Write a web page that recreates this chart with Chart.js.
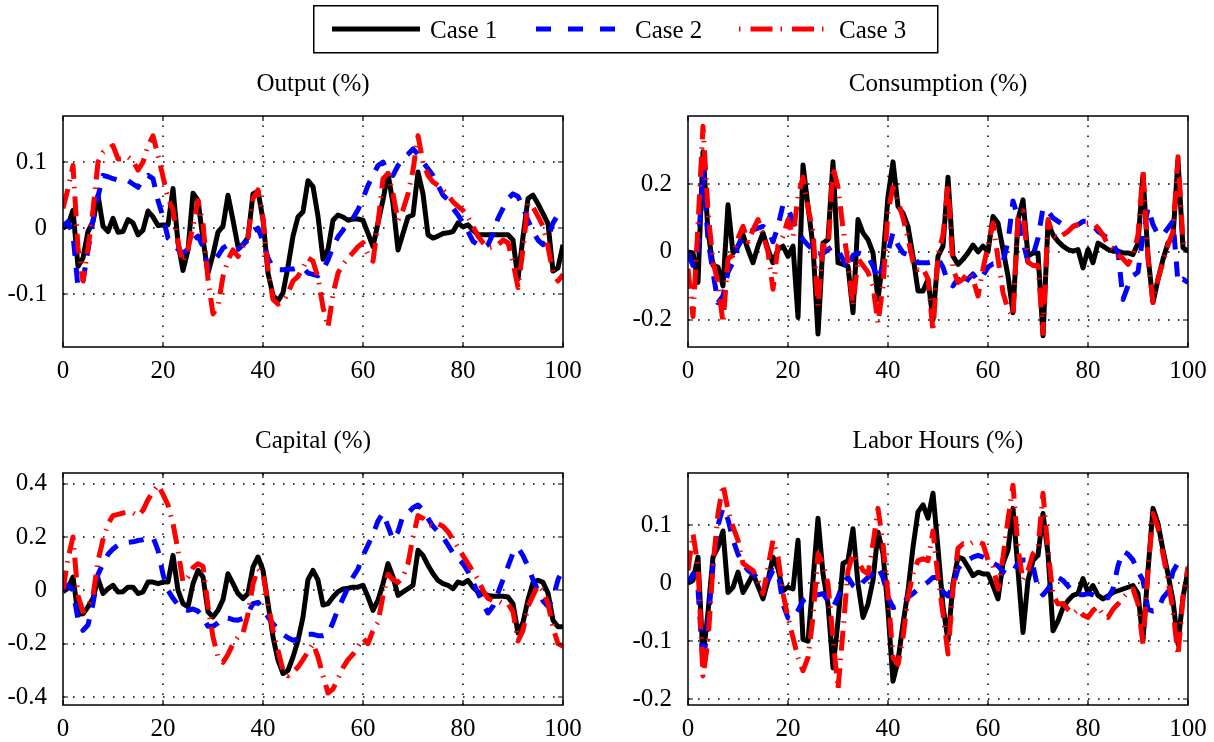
<!DOCTYPE html>
<html>
<head>
<meta charset="utf-8">
<script src="https://cdn.jsdelivr.net/npm/chart.js@4.4.1/dist/chart.umd.min.js"></script>
<style>
  html, body { margin: 0; padding: 0; background: #fff; }
  body { width: 1214px; height: 742px; position: relative; overflow: hidden; }
  canvas { position: absolute; }
  #overlay { position: absolute; left: 0; top: 0; pointer-events: none; }
</style>
</head>
<body>
<canvas id="cOutput" width="588" height="290" style="left:0px;top:100px"></canvas>
<canvas id="cConsumption" width="593" height="290" style="left:620px;top:100px"></canvas>
<canvas id="cCapital" width="588" height="285" style="left:0px;top:457px"></canvas>
<canvas id="cLabor" width="593" height="285" style="left:620px;top:457px"></canvas>

<svg id="overlay" width="1214" height="742" xmlns="http://www.w3.org/2000/svg">
  <g font-family="Liberation Serif, Times New Roman, serif" font-size="25" fill="#000">
    <text x="313" y="91" text-anchor="middle">Output (%)</text>
    <text x="938" y="91" text-anchor="middle">Consumption (%)</text>
    <text x="313" y="448" text-anchor="middle">Capital (%)</text>
    <text x="938" y="448" text-anchor="middle">Labor Hours (%)</text>
  </g>
  <rect x="313.75" y="5.75" width="624" height="47" fill="#fff" stroke="#000" stroke-width="1.5"/>
  <line x1="332" y1="29" x2="420" y2="29" stroke="#000" stroke-width="5"/>
  <line x1="536" y1="29" x2="615" y2="29" stroke="#0000ff" stroke-width="5" stroke-dasharray="15 17"/>
  <line x1="739" y1="29" x2="831" y2="29" stroke="#ff0000" stroke-width="5" stroke-dasharray="1.5 10 22 8"/>
  <g font-family="Liberation Serif, Times New Roman, serif" font-size="25" fill="#000">
    <text x="430" y="38">Case 1</text>
    <text x="635" y="38">Case 2</text>
    <text x="839" y="38">Case 3</text>
  </g>
</svg>

<script>
// Simulation periods on the horizontal axis
const periods = Array.from({ length: 101 }, (_, i) => i);
const periodTicks = [0, 20, 40, 60, 80, 100];

// Tick values of each vertical axis
const outputTicks = [-0.1, 0, 0.1];
const consumptionTicks = [-0.2, 0, 0.2];
const capitalTicks = [-0.4, -0.2, 0, 0.2, 0.4];
const laborTicks = [-0.2, -0.1, 0, 0.1];

// Output (%)
const outputCase1 = [
  0.000, 0.005, 0.027, -0.058, -0.045, -0.005, 0.010, 0.050, 0.003, -0.005,
  0.015, -0.006, -0.005, 0.013, 0.008, -0.010, -0.003, 0.026, 0.017, 0.004,
  0.005, 0.005, 0.060, -0.022, -0.064, -0.033, 0.053, 0.042, -0.017, -0.068,
  -0.040, -0.006, 0.003, 0.050, 0.012, -0.028, -0.025, -0.014, 0.052, 0.056,
  0.013, -0.068, -0.102, -0.110, -0.098, -0.058, -0.012, 0.017, 0.025, 0.072,
  0.063, 0.018, -0.047, -0.032, 0.012, 0.020, 0.017, 0.012, 0.014, 0.014,
  0.012, -0.008, -0.028, 0.008, 0.043, 0.083, 0.037, -0.033, -0.008, 0.017,
  0.020, 0.085, 0.052, -0.010, -0.015, -0.012, -0.008, -0.007, -0.005, 0.008,
  0.002, 0.005, -0.003, -0.010, -0.010, -0.010, -0.010, -0.010, -0.010, -0.010,
  -0.018, -0.077, -0.013, 0.045, 0.050, 0.037, 0.022, 0.007, -0.065, -0.060,
  -0.025
];
const outputCase2 = [
  0.003, 0.010, -0.010, -0.090, -0.080, -0.033, 0.012, 0.048, 0.080, 0.078,
  0.075, 0.073, 0.072, 0.072, 0.067, 0.062, 0.075, 0.080, 0.075, 0.042,
  0.017, -0.015, -0.022, -0.032, -0.038, -0.032, -0.018, -0.012, -0.028, -0.062,
  -0.052, -0.042, -0.030, -0.025, -0.032, -0.032, -0.025, -0.018, -0.005, 0.000,
  -0.020, -0.045, -0.060, -0.063, -0.063, -0.062, -0.062, -0.060, -0.060, -0.068,
  -0.070, -0.072, -0.063, -0.048, -0.028, -0.013, -0.003, 0.008, 0.015, 0.028,
  0.045, 0.065, 0.080, 0.095, 0.100, 0.085, 0.080, 0.095, 0.105, 0.112,
  0.120, 0.112, 0.100, 0.090, 0.080, 0.065, 0.050, 0.043, 0.030, 0.020,
  0.008, -0.005, -0.020, -0.025, -0.030, -0.025, -0.008, 0.015, 0.030, 0.045,
  0.052, 0.048, 0.032, 0.012, -0.005, -0.018, -0.025, -0.015, 0.008, 0.020,
  0.030
];
const outputCase3 = [
  0.030, 0.060, 0.095, -0.030, -0.080, -0.030, 0.028, 0.100, 0.115, 0.120,
  0.125, 0.105, 0.105, 0.108, 0.102, 0.088, 0.100, 0.125, 0.140, 0.110,
  0.078, 0.045, 0.028, -0.022, -0.052, -0.032, 0.003, 0.042, 0.007, -0.078,
  -0.130, -0.118, -0.073, -0.048, -0.033, -0.043, -0.028, -0.013, 0.045, 0.058,
  0.015, -0.063, -0.108, -0.115, -0.112, -0.098, -0.080, -0.073, -0.060, -0.045,
  -0.050, -0.075, -0.120, -0.150, -0.100, -0.068, -0.055, -0.045, -0.037, -0.028,
  -0.022, -0.040, -0.050, 0.008, 0.075, 0.083, 0.052, 0.012, 0.028, 0.052,
  0.088, 0.140, 0.100, 0.080, 0.070, 0.065, 0.058, 0.050, 0.040, 0.033,
  0.027, 0.017, 0.003, -0.012, -0.022, -0.030, -0.028, -0.025, -0.018, -0.022,
  -0.052, -0.090, -0.032, 0.038, 0.032, 0.018, 0.003, -0.028, -0.068, -0.080,
  -0.070
];

// Consumption (%)
const consumptionCase1 = [
  0.000, -0.003, -0.090, 0.295, 0.060, -0.040, -0.045, -0.100, 0.139, -0.003,
  0.017, 0.050, 0.007, -0.032, 0.017, 0.056, 0.007, -0.032, 0.007, 0.017,
  -0.013, 0.017, -0.193, 0.256, 0.134, 0.017, -0.242, 0.026, 0.036, 0.265,
  -0.032, -0.037, -0.042, -0.179, 0.095, 0.056, 0.036, -0.003, -0.140, -0.020,
  0.163, 0.265, 0.134, 0.114, 0.075, -0.013, -0.115, -0.115, -0.081, -0.200,
  -0.013, 0.017, 0.220, -0.013, -0.037, -0.022, -0.003, 0.020, 0.000, 0.017,
  0.000, 0.104, 0.085, 0.007, -0.071, -0.179, 0.095, 0.153, -0.013, -0.003,
  -0.003, -0.247, 0.085, 0.050, 0.031, 0.017, 0.007, 0.002, 0.007, -0.047,
  0.007, -0.032, 0.026, 0.017, 0.007, 0.002, 0.002, -0.003, -0.003, -0.008,
  0.026, 0.226, -0.013, -0.149, -0.081, -0.022, 0.026, 0.046, 0.270, 0.012,
  0.002
];
const consumptionCase2 = [
  -0.003, -0.040, 0.000, 0.240, 0.036, -0.060, -0.150, -0.130, -0.060, -0.030,
  0.017, 0.041, 0.056, 0.065, 0.070, 0.075, 0.065, 0.030, 0.075, 0.139,
  0.129, 0.090, 0.060, 0.036, 0.020, 0.007, -0.013, -0.005, 0.007, 0.017,
  0.005, -0.022, -0.052, -0.010, -0.003, -0.008, -0.013, -0.042, -0.081, -0.040,
  0.000, 0.056, 0.020, -0.003, -0.008, -0.013, -0.032, -0.032, -0.032, -0.028,
  -0.020, -0.045, -0.090, -0.100, -0.080, -0.105, -0.080, -0.065, -0.085, -0.070,
  -0.045, -0.035, -0.035, -0.030, 0.030, 0.150, 0.100, 0.030, -0.030, -0.010,
  0.040, 0.130, 0.120, 0.100, 0.090, 0.080, 0.075, 0.075, 0.080, 0.090,
  0.090, 0.080, 0.060, 0.050, 0.040, 0.020, 0.000, -0.140, -0.100, -0.070,
  -0.060, 0.050, 0.130, 0.080, 0.050, 0.050, 0.070, 0.090, -0.090, -0.080,
  -0.090
];
const consumptionCase3 = [
  -0.050, -0.190, 0.080, 0.370, 0.120, -0.030, -0.090, -0.210, -0.020, -0.010,
  0.040, 0.075, 0.030, 0.065, 0.095, 0.050, 0.000, -0.110, 0.020, 0.046,
  0.095, 0.045, 0.163, 0.220, 0.130, 0.060, -0.160, 0.020, 0.000, 0.250,
  0.190, 0.070, -0.030, -0.160, -0.020, -0.040, -0.060, -0.100, -0.210, -0.100,
  0.120, 0.190, 0.150, 0.100, 0.040, -0.030, -0.052, -0.048, -0.080, -0.235,
  -0.010, 0.050, 0.200, -0.050, -0.090, -0.080, -0.060, -0.080, -0.130, -0.050,
  0.020, 0.085, -0.020, -0.120, -0.170, -0.190, 0.100, 0.120, -0.030, -0.040,
  -0.040, -0.240, 0.095, 0.050, 0.040, 0.050, 0.060, 0.075, 0.080, 0.085,
  0.085, 0.085, 0.070, 0.050, 0.020, 0.010, -0.010, -0.020, -0.037, -0.010,
  0.050, 0.240, -0.020, -0.149, -0.080, -0.030, 0.020, 0.060, 0.280, 0.030,
  0.000
];

// Capital (%)
const capitalCase1 = [
  -0.005, 0.008, 0.050, -0.090, -0.088, -0.062, -0.030, 0.044, -0.012, 0.006,
  0.019, -0.006, -0.005, 0.012, 0.012, -0.012, -0.006, 0.031, 0.031, 0.025,
  0.031, 0.031, 0.131, 0.000, -0.050, -0.062, 0.025, 0.075, 0.050, -0.080,
  -0.100, -0.075, -0.035, 0.062, 0.025, -0.012, -0.031, -0.012, 0.088, 0.125,
  0.075, -0.050, -0.175, -0.262, -0.312, -0.300, -0.250, -0.188, -0.100, 0.040,
  0.075, 0.038, -0.055, -0.050, -0.025, -0.005, 0.005, 0.008, 0.012, 0.012,
  0.019, -0.025, -0.075, -0.037, 0.025, 0.100, 0.050, -0.019, -0.006, 0.006,
  0.019, 0.150, 0.131, 0.094, 0.062, 0.037, 0.025, 0.019, 0.006, 0.031,
  0.025, 0.037, 0.012, -0.006, -0.012, -0.019, -0.022, -0.022, -0.022, -0.025,
  -0.050, -0.160, -0.120, -0.035, 0.030, 0.038, 0.030, -0.010, -0.112, -0.137,
  -0.137
];
const capitalCase2 = [
  0.000, 0.019, 0.000, -0.110, -0.150, -0.130, -0.050, 0.060, 0.100, 0.135,
  0.155, 0.170, 0.176, 0.180, 0.182, 0.187, 0.190, 0.195, 0.200, 0.150,
  0.060, 0.000, -0.030, -0.055, -0.072, -0.075, -0.070, -0.078, -0.100, -0.135,
  -0.135, -0.122, -0.103, -0.104, -0.110, -0.112, -0.105, -0.085, -0.050, -0.045,
  -0.070, -0.100, -0.125, -0.145, -0.165, -0.178, -0.187, -0.183, -0.176, -0.165,
  -0.165, -0.170, -0.170, -0.165, -0.120, -0.070, -0.030, 0.010, 0.050, 0.080,
  0.130, 0.170, 0.210, 0.260, 0.290, 0.240, 0.190, 0.220, 0.280, 0.290,
  0.310, 0.320, 0.300, 0.270, 0.240, 0.220, 0.200, 0.170, 0.140, 0.120,
  0.100, 0.070, 0.030, -0.010, -0.050, -0.085, -0.060, -0.010, 0.040, 0.090,
  0.140, 0.160, 0.130, 0.090, 0.040, 0.000, -0.040, -0.060, -0.030, 0.040,
  0.080
];
const capitalCase3 = [
  0.000, 0.120, 0.200, -0.020, -0.080, -0.060, -0.020, 0.110, 0.190, 0.250,
  0.280, 0.285, 0.290, 0.293, 0.290, 0.280, 0.300, 0.340, 0.370, 0.395,
  0.360, 0.320, 0.250, 0.150, 0.030, 0.050, 0.085, 0.100, 0.090, -0.060,
  -0.175, -0.250, -0.270, -0.240, -0.200, -0.175, -0.160, -0.088, 0.025, 0.081,
  0.062, -0.050, -0.150, -0.225, -0.300, -0.320, -0.306, -0.288, -0.260, -0.230,
  -0.200, -0.250, -0.320, -0.385, -0.370, -0.330, -0.290, -0.260, -0.240, -0.210,
  -0.180, -0.200, -0.150, -0.120, -0.020, 0.060, 0.040, 0.030, 0.050, 0.100,
  0.200, 0.280, 0.270, 0.250, 0.240, 0.250, 0.240, 0.220, 0.190, 0.160,
  0.130, 0.100, 0.070, 0.040, 0.000, -0.030, -0.040, -0.040, -0.050, -0.050,
  -0.080, -0.190, -0.150, -0.060, -0.020, 0.020, 0.000, -0.050, -0.140, -0.200,
  -0.210
];

// Labor Hours (%)
const laborCase1 = [
  0.000, 0.005, 0.045, -0.128, -0.050, 0.045, 0.062, 0.090, -0.016, -0.007,
  0.019, -0.016, -0.001, 0.016, -0.005, -0.027, 0.005, 0.045, 0.025, -0.013,
  -0.007, -0.010, 0.074, -0.097, -0.100, 0.005, 0.112, 0.016, -0.036, -0.146,
  -0.065, 0.034, 0.039, 0.094, -0.001, -0.059, -0.036, 0.005, 0.088, 0.051,
  -0.047, -0.169, -0.134, -0.070, -0.013, 0.062, 0.123, 0.135, 0.112, 0.155,
  0.060, -0.040, -0.099, 0.000, 0.045, 0.042, 0.028, 0.013, 0.019, 0.016,
  0.016, -0.004, -0.027, 0.034, 0.057, 0.129, 0.022, -0.085, 0.005, 0.039,
  0.048, 0.120, 0.051, -0.082, -0.065, -0.042, -0.030, -0.021, -0.018, 0.008,
  -0.016, -0.004, -0.021, -0.027, -0.022, -0.016, -0.013, -0.010, -0.007, -0.004,
  -0.018, -0.099, 0.022, 0.129, 0.103, 0.057, 0.016, -0.030, -0.105, -0.024,
  0.022
];
const laborCase2 = [
  0.000, 0.016, -0.010, -0.140, -0.070, 0.030, 0.100, 0.130, 0.110, 0.075,
  0.050, 0.034, 0.022, 0.016, 0.008, -0.001, 0.005, 0.022, 0.020, -0.036,
  -0.060, -0.062, -0.047, -0.030, -0.024, -0.022, -0.020, -0.018, -0.030, -0.042,
  -0.024, 0.000, 0.010, -0.004, -0.010, 0.002, 0.010, 0.016, 0.028, 0.010,
  -0.024, -0.042, -0.040, -0.036, -0.024, -0.018, -0.010, -0.004, 0.002, 0.010,
  0.010, -0.015, -0.022, -0.005, 0.025, 0.035, 0.040, 0.045, 0.048, 0.045,
  0.040, 0.035, 0.030, 0.020, 0.015, 0.020, 0.035, 0.040, 0.040, 0.030,
  -0.010, -0.020, -0.010, 0.005, 0.010, 0.005, -0.005, -0.015, -0.020, -0.020,
  -0.018, -0.020, -0.024, -0.025, -0.025, -0.010, 0.030, 0.055, 0.050, 0.040,
  0.020, 0.005, -0.045, -0.048, -0.045, -0.025, -0.015, 0.020, 0.035, 0.035,
  0.030
];
const laborCase3 = [
  0.022, 0.085, 0.030, -0.160, -0.100, 0.030, 0.120, 0.170, 0.126, 0.097,
  0.074, 0.034, 0.028, 0.022, 0.005, -0.018, 0.028, 0.074, 0.045, -0.018,
  -0.059, -0.094, -0.128, -0.151, -0.128, -0.059, 0.051, 0.034, -0.001, -0.094,
  -0.183, -0.082, 0.022, 0.051, 0.039, 0.022, 0.016, 0.068, 0.129, 0.068,
  -0.018, -0.128, -0.140, -0.094, -0.024, 0.016, 0.039, 0.042, 0.039, 0.090,
  0.010, -0.053, -0.122, -0.010, 0.060, 0.068, 0.066, 0.071, 0.071, 0.068,
  0.040, 0.030, -0.010, 0.045, 0.110, 0.169, 0.060, 0.005, 0.022, 0.051,
  0.060, 0.155, 0.057, -0.020, -0.036, -0.035, -0.045, -0.053, -0.045, -0.055,
  -0.059, -0.047, -0.040, -0.055, -0.059, -0.045, -0.036, -0.025, -0.015, -0.010,
  -0.036, -0.105, 0.022, 0.120, 0.095, 0.050, 0.005, -0.047, -0.125, -0.024,
  0.028
];

const tickFont = { family: 'Liberation Serif, Times New Roman, serif', size: 25 };

// Dotted grid under the curves, boxed frame with inward tick marks on top
const boxedAxes = {
  id: 'boxedAxes',
  beforeDatasetsDraw(chart) {
    const { ctx, chartArea: a, scales: { x, y } } = chart;
    ctx.save();
    ctx.strokeStyle = '#000';
    ctx.lineWidth = 1.5;
    ctx.setLineDash([1.6, 8.4]);
    ctx.beginPath();
    x.ticks.forEach(t => {
      const px = Math.round(x.getPixelForValue(t.value));
      if (px > a.left + 2 && px < a.right - 2) { ctx.moveTo(px, a.bottom); ctx.lineTo(px, a.top); }
    });
    y.ticks.forEach(t => {
      const py = Math.round(y.getPixelForValue(t.value));
      if (py > a.top + 2 && py < a.bottom - 2) { ctx.moveTo(a.left, py); ctx.lineTo(a.right, py); }
    });
    ctx.stroke();
    ctx.restore();
  },
  afterDatasetsDraw(chart) {
    const { ctx, chartArea: a, scales: { x, y } } = chart;
    ctx.save();
    ctx.setLineDash([]);
    ctx.strokeStyle = '#000';
    ctx.lineWidth = 1.2;
    ctx.beginPath();
    x.ticks.forEach(t => {
      const px = Math.round(x.getPixelForValue(t.value));
      ctx.moveTo(px, a.bottom); ctx.lineTo(px, a.bottom - 5);
      ctx.moveTo(px, a.top); ctx.lineTo(px, a.top + 5);
    });
    y.ticks.forEach(t => {
      const py = Math.round(y.getPixelForValue(t.value));
      ctx.moveTo(a.left, py); ctx.lineTo(a.left + 5, py);
      ctx.moveTo(a.right, py); ctx.lineTo(a.right - 5, py);
    });
    ctx.stroke();
    ctx.lineWidth = 1.5;
    ctx.strokeRect(a.left, a.top, a.right - a.left, a.bottom - a.top);
    ctx.restore();
  }
};

function series(label, values, color, dash, order) {
  return {
    label, data: values, borderColor: color, backgroundColor: color,
    borderWidth: 5, borderDash: dash, borderCapStyle: 'butt', borderJoinStyle: 'round',
    pointRadius: 0, tension: 0, fill: false, clip: 0, order
  };
}

function panel(id, layout, yMin, yMax, yTicks, c1, c2, c3) {
  new Chart(document.getElementById(id), {
    type: 'line',
    data: {
      labels: periods,
      datasets: [
        series('Case 1', c1, '#000000', [], 3),
        series('Case 2', c2, '#0000ff', [15, 12], 2),
        series('Case 3', c3, '#ff0000', [20, 8, 1.5, 8], 1)
      ]
    },
    options: {
      responsive: false,
      animation: false,
      devicePixelRatio: 1,
      events: [],
      layout: { padding: { top: layout.padTop, right: layout.padRight, left: 0, bottom: 0 } },
      plugins: { legend: { display: false }, tooltip: { enabled: false }, title: { display: false } },
      scales: {
        x: {
          type: 'linear', min: 0, max: 100, bounds: 'data',
          afterBuildTicks: s => { s.ticks = periodTicks.map(v => ({ value: v })); },
          afterFit: s => { s.height = layout.xHeight; s.paddingLeft = 0; s.paddingRight = 0; },
          grid: { display: false, drawTicks: false },
          border: { display: false },
          ticks: { font: tickFont, color: '#000', padding: 9, maxRotation: 0, autoSkip: false, callback: v => String(v) }
        },
        y: {
          type: 'linear', min: yMin, max: yMax, bounds: 'data',
          afterBuildTicks: s => { s.ticks = yTicks.map(v => ({ value: v })); },
          afterFit: s => { s.width = layout.yWidth; s.paddingTop = 0; s.paddingBottom = 0; },
          grid: { display: false, drawTicks: false },
          border: { display: false },
          ticks: { font: tickFont, color: '#000', padding: 16, autoSkip: false, callback: v => String(v) }
        }
      }
    },
    plugins: [boxedAxes]
  });
}

const leftTop = { padTop: 16, padRight: 25, yWidth: 63, xHeight: 43 };
const rightTop = { padTop: 16, padRight: 25, yWidth: 68, xHeight: 43 };
const leftBottom = { padTop: 16, padRight: 25, yWidth: 63, xHeight: 37 };
const rightBottom = { padTop: 16, padRight: 25, yWidth: 68, xHeight: 37 };

panel('cOutput', leftTop, -0.18, 0.17, outputTicks, outputCase1, outputCase2, outputCase3);
panel('cConsumption', rightTop, -0.28, 0.40, consumptionTicks, consumptionCase1, consumptionCase2, consumptionCase3);
panel('cCapital', leftBottom, -0.43, 0.44, capitalTicks, capitalCase1, capitalCase2, capitalCase3);
panel('cLabor', rightBottom, -0.21, 0.19, laborTicks, laborCase1, laborCase2, laborCase3);
</script>
</body>
</html>
